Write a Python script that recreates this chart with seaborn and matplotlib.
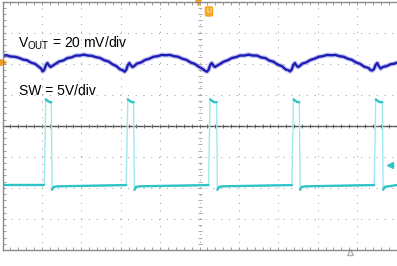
import numpy as np
import pandas as pd
import matplotlib
matplotlib.use("Agg")
import matplotlib.pyplot as plt
import seaborn as sns

# ---------------- data (time and amplitude in screen divisions) ----------------
vout_t = [0.00, 0.10, 0.20, 0.31, 0.41, 0.52, 0.62, 0.73, 0.83, 0.93, 0.98, 1.02,
          1.06, 1.10, 1.14, 1.18, 1.22, 1.27,
          1.33, 1.44, 1.54, 1.65, 1.75, 1.86, 1.96, 2.06, 2.17, 2.27, 2.37, 2.48,
          2.58, 2.69, 2.79, 2.89, 2.98, 3.05, 3.10,
          3.14, 3.18, 3.22, 3.26, 3.30, 3.35,
          3.41, 3.52, 3.62, 3.73, 3.83, 3.94, 4.04, 4.15, 4.25, 4.35, 4.46, 4.56,
          4.67, 4.77, 4.88, 4.98, 5.08, 5.14, 5.19,
          5.23, 5.27, 5.31, 5.35, 5.39, 5.44,
          5.51, 5.61, 5.72, 5.82, 5.93, 6.03, 6.14, 6.245, 6.35, 6.46, 6.56, 6.67,
          6.77, 6.88, 6.98, 7.09, 7.19, 7.25, 7.30,
          7.34, 7.38, 7.42, 7.46, 7.50, 7.55,
          7.61, 7.71, 7.82, 7.92, 8.03, 8.13, 8.24, 8.345, 8.45, 8.55, 8.66, 8.76,
          8.87, 8.97, 9.08, 9.18, 9.29, 9.34, 9.39,
          9.43, 9.47, 9.51, 9.55, 9.60, 9.65, 9.75, 9.85, 9.95, 10.0]
vout_v = [2.25, 2.27, 2.23, 2.22, 2.19, 2.13, 2.11, 2.03, 1.99, 1.89, 1.84, 1.75,
          1.80, 1.95, 2.02, 1.94, 1.89, 1.93,
          1.98, 2.07, 2.10, 2.18, 2.20, 2.26, 2.26, 2.29, 2.26, 2.25, 2.21, 2.18,
          2.11, 2.07, 1.98, 1.92, 1.82, 1.79, 1.74,
          1.80, 1.95, 2.02, 1.94, 1.89, 1.93,
          2.00, 2.04, 2.12, 2.16, 2.22, 2.24, 2.28, 2.27, 2.28, 2.24, 2.22, 2.16,
          2.12, 2.04, 1.99, 1.90, 1.83, 1.77, 1.74,
          1.80, 1.95, 2.02, 1.94, 1.89, 1.93,
          1.98, 2.06, 2.11, 2.18, 2.21, 2.26, 2.26, 2.29, 2.26, 2.26, 2.20, 2.18,
          2.10, 2.06, 1.97, 1.92, 1.81, 1.79, 1.75,
          1.81, 1.95, 2.02, 1.94, 1.89, 1.93,
          2.00, 2.04, 2.12, 2.16, 2.22, 2.24, 2.28, 2.27, 2.28, 2.24, 2.22, 2.16,
          2.12, 2.04, 1.99, 1.90, 1.86, 1.79, 1.78,
          1.83, 1.96, 2.02, 1.92, 1.84, 1.89, 1.92, 1.98, 2.00, 2.03]

sw_rise = [1.079, 3.160, 5.249, 7.365, 9.454]
sw_fall = [1.249, 3.338, 5.444, 7.543, 9.650]
sw_low = -1.91
sw_low_after = -1.95
sw_high = 0.76
sw_overshoot = 0.85
sw_undershoot = -2.06

label_vout = r"V$_{\mathrm{OUT}}$ = 20 mV/div"
label_sw = "SW = 5V/div"

# ---------------- build SW trace table ----------------
rows = [(0.0, sw_low, "low", 0)]
seg = 0
for i, (tr, tf) in enumerate(zip(sw_rise, sw_fall)):
    rows.append((tr - 0.02, sw_low, "low", seg))
    seg += 1
    rows += [(tr + 0.02, sw_overshoot, "high", seg),
             (tr + 0.07, sw_high + 0.04, "high", seg),
             (tr + 0.12, sw_high, "high", seg),
             (tf - 0.01, sw_high, "high", seg)]
    seg += 1
    rows += [(tf + 0.01, sw_undershoot, "low", seg),
             (tf + 0.05, sw_low_after - 0.02, "low", seg),
             (tf + 0.15, sw_low_after, "low", seg)]
rows.append((10.0, sw_low, "low", seg))
sw = pd.DataFrame(rows, columns=["t", "v", "level", "seg"])
vout = pd.DataFrame({"t": vout_t, "v": vout_v})

# ---------------- figure ----------------
sns.set_theme(style="white")
plt.rcParams["font.family"] = ["Liberation Sans", "DejaVu Sans"]
plt.rcParams["mathtext.fontset"] = "custom"
plt.rcParams["mathtext.rm"] = "Liberation Sans"
plt.rcParams["mathtext.it"] = "Liberation Sans"

W, H = 397, 266
fig = plt.figure(figsize=(W / 100, H / 100), dpi=100)
fig.patch.set_facecolor("white")
x0, y0, pw, ph = 2.5, 16.0, 394.0, 248.5
ax = fig.add_axes([x0 / W, y0 / H, pw / W, ph / H])
ax.set_xlim(0, 10)
ax.set_ylim(-4, 4)

frame_c = "#8a8a8a"
for s in ["left", "top", "bottom"]:
    ax.spines[s].set_color(frame_c)
    ax.spines[s].set_linewidth(1.0)
ax.spines["right"].set_visible(False)
ax.set_xticks(np.arange(0, 11, 1))
ax.set_yticks(np.arange(-4, 5, 1))
ax.set_xticks(np.arange(0, 10.01, 0.2), minor=True)
ax.set_yticks(np.arange(-4, 4.01, 0.2), minor=True)
ax.tick_params(which="both", direction="in", length=2.5, width=0.6, color=frame_c,
               top=True, bottom=True, left=True, right=False,
               labelleft=False, labelbottom=False, labeltop=False, labelright=False)
ax.grid(which="major", color="#9a9a9a", linewidth=0.7, linestyle=(0, (1, 7)))

# center crosshair with ticks
ax2 = fig.add_axes([x0 / W, y0 / H, pw / W, ph / H], frameon=True)
ax2.patch.set_visible(False)
ax2.set_xlim(0, 10)
ax2.set_ylim(-4, 4)
ax2.spines["left"].set_position(("data", 5))
ax2.spines["bottom"].set_position(("data", 0))
ax2.spines["top"].set_visible(False)
ax2.spines["right"].set_visible(False)
ax2.spines["bottom"].set_color("#505050")
ax2.spines["bottom"].set_linewidth(1.0)
ax2.spines["left"].set_visible(False)
ax2.set_xticks(np.arange(0, 10.01, 0.2))
ax2.set_yticks(np.arange(-4, 4.01, 0.2))
ax2.tick_params(axis="x", direction="inout", length=3.5, width=0.6, color="#606060",
                bottom=True, top=False, labelbottom=False, labeltop=False)
ax2.tick_params(axis="y", direction="inout", length=3.0, width=0.5, color="#8a8a8a",
                left=True, right=False, labelleft=False, labelright=False)
ax2.set_zorder(0)
ax.set_zorder(1)
ax.patch.set_visible(False)

# SW trace (light edges, darker levels)
sns.lineplot(data=sw, x="t", y="v", sort=False, estimator=None, ax=ax,
             color="#9fe8ec", linewidth=1.0)
sns.lineplot(data=sw, x="t", y="v", units="seg", sort=False, estimator=None, ax=ax,
             color="#2ec4c8", linewidth=1.7, legend=False)

# VOUT trace: fuzzy halo + core
sns.lineplot(data=vout, x="t", y="v", sort=False, estimator=None, ax=ax,
             color="#6b6be0", linewidth=3.4, alpha=0.4)
sns.lineplot(data=vout, x="t", y="v", sort=False, estimator=None, ax=ax,
             color="#1e1eb4", linewidth=1.7)

ax.set_xlabel("")
ax.set_ylabel("")

# annotations
ax.text(0.39, 2.53, label_vout, fontsize=10, color="black", va="baseline", ha="left")
ax.text(0.42, 1.0, label_sw, fontsize=10, color="black", va="baseline", ha="left")

# scope markers
ax.plot([4.96], [4.0], marker="v", color="#f0a020", markersize=5, clip_on=False)
ax.plot([0.0], [2.04], marker=">", color="#f0a020", markersize=4, clip_on=False)
ax.text(5.24, 3.68, "U", fontsize=5, color="#ffe0a0", ha="center", va="center",
        fontweight="bold",
        bbox=dict(boxstyle="round,pad=0.25", fc="#f5a623", ec="none"))
ax.plot([9.84], [-1.25], marker="<", color="#2ec4c8", markersize=4, clip_on=False)
ax.plot([8.82], [-4.08], marker="^", mfc="white", mec="#b0b0b0", markersize=4,
        clip_on=False)

fig.savefig("out.png", dpi=100, facecolor="white")
